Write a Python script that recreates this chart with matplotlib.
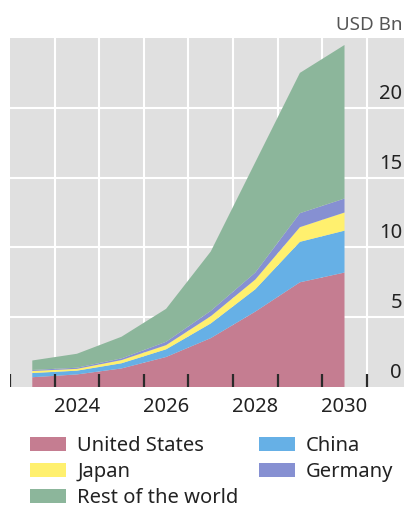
import numpy as np
import matplotlib.pyplot as plt
from matplotlib.patches import Patch

plt.rcParams['font.family'] = ['Noto Sans', 'DejaVu Sans']

years = [2023, 2024, 2025, 2026, 2027, 2028, 2029, 2030]
united_states = [0.70, 0.90, 1.33, 2.15, 3.50, 5.40, 7.50, 8.20]
china = [0.30, 0.27, 0.37, 0.55, 1.05, 1.60, 2.90, 3.00]
japan = [0.15, 0.13, 0.23, 0.30, 0.52, 0.70, 1.05, 1.30]
germany = [0.07, 0.08, 0.12, 0.24, 0.38, 0.50, 1.00, 1.00]
rest_of_world = [0.68, 1.00, 1.55, 2.36, 4.25, 7.90, 10.05, 11.00]

names = ["United States", "China", "Japan", "Germany", "Rest of the world"]
colors = ["#C57D91", "#66B0E6", "#FFF06E", "#8690D2", "#8CB69B"]

y_ticks = [0, 5, 10, 15, 20]
x_labels = [2024, 2026, 2028, 2030]

W, H = 404, 507
fig = plt.figure(figsize=(W / 100, H / 100), dpi=100)
ax = fig.add_axes([10 / W, 1 - 387 / H, 394 / W, (387 - 38) / H])
ax.set_facecolor("#E0E0E0")

ax.stackplot(years, united_states, china, japan, germany, rest_of_world,
             colors=colors, linewidth=0, zorder=3)

ax.set_xlim(2022.5, 2022.5 + 394 / 44.6)
ax.set_ylim(0, 25)

# gridlines sit between years
bounds = np.arange(2022.5, 2031, 1.0)
for b in bounds[1:]:
    ax.axvline(b, color="white", lw=1.5, zorder=1)
for v in [5, 10, 15, 20]:
    ax.axhline(v, color="white", lw=1.5, zorder=1)

# short inward ticks on the year boundaries, drawn over the areas
ax.vlines(bounds, 0, 0.038, transform=ax.get_xaxis_transform(),
          colors="#2a2a2a", lw=1.6, zorder=6)

ax.set_xticks(x_labels)
ax.set_xticklabels([str(y) for y in x_labels], fontsize=14.5, color="#222222")
ax.tick_params(axis="x", which="major", length=0, pad=7)
ax.set_yticks([])
for s in ax.spines.values():
    s.set_visible(False)

for v in y_ticks:
    ax.annotate(str(v), xy=(0.995, v), xycoords=("axes fraction", "data"),
                xytext=(0, 14), textcoords="offset pixels",
                ha="right", va="center", fontsize=14.5, color="#222222")

fig.text(402 / W, 1 - 25 / H, "USD Bn", ha="right", va="center",
         fontsize=13.5, color="#555555")

handles = [Patch(facecolor=c, edgecolor="none") for c in colors]
order = [0, 2, 4, 1, 3]
fig.legend([handles[i] for i in order], [names[i] for i in order],
           loc="upper left", bbox_to_anchor=(30 / W, 1 - 436 / H), ncol=2,
           frameon=False, fontsize=14.5, borderpad=0, borderaxespad=0,
           handlelength=1.8, handleheight=0.72, handletextpad=0.55,
           labelspacing=0.3, columnspacing=1.0, labelcolor="#222222")

fig.savefig("out.png", dpi=100)
